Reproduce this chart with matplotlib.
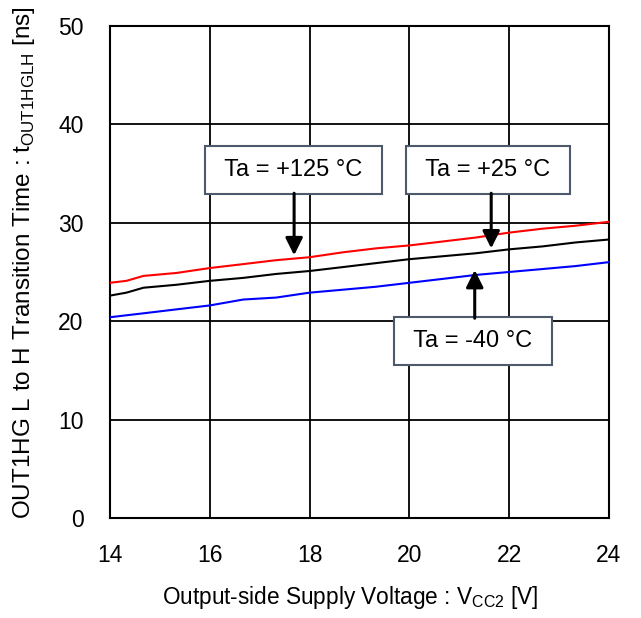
import matplotlib
matplotlib.use('Agg')
import matplotlib.pyplot as plt

plt.rcParams['font.family'] = ['Liberation Sans', 'DejaVu Sans']
plt.rcParams['mathtext.fontset'] = 'custom'
plt.rcParams['mathtext.rm'] = 'Liberation Sans'

# supply voltage (V)
vcc2 = [14.0, 14.33, 14.67, 15.33, 16.0, 16.67, 17.33, 18.0, 18.67, 19.33,
        20.0, 20.67, 21.33, 22.0, 22.67, 23.33, 24.0]
# transition time (ns)
t_125 = [23.9, 24.1, 24.6, 24.9, 25.4, 25.8, 26.2, 26.5, 27.0, 27.4,
         27.7, 28.1, 28.5, 29.0, 29.4, 29.7, 30.1]
t_25 = [22.6, 22.9, 23.4, 23.7, 24.1, 24.4, 24.8, 25.1, 25.5, 25.9,
        26.3, 26.6, 26.9, 27.3, 27.6, 28.0, 28.3]
t_m40 = [20.4, 20.6, 20.8, 21.2, 21.6, 22.2, 22.4, 22.9, 23.2, 23.5,
         23.9, 24.3, 24.7, 25.0, 25.3, 25.6, 26.0]

fig = plt.figure(figsize=(6.41, 6.18), dpi=100)
ax = fig.add_axes([0.1716, 0.1618, 0.7784, 0.7962])

ax.plot(vcc2, t_125, color='#ff0000', lw=1.5, zorder=3)
ax.plot(vcc2, t_25, color='black', lw=1.5, zorder=3)
ax.plot(vcc2, t_m40, color='#0000ff', lw=1.5, zorder=3)

ax.set_xlim(14, 24)
ax.set_ylim(0, 50)
ax.set_xticks([14, 16, 18, 20, 22, 24])
ax.set_yticks([0, 10, 20, 30, 40, 50])
ax.grid(True, color='black', lw=1.3)
ax.set_axisbelow(True)
for s in ax.spines.values():
    s.set_linewidth(1.5)
ax.tick_params(axis='both', length=0, labelsize=16.5)
ax.tick_params(axis='x', pad=19)
ax.tick_params(axis='y', pad=19)

ax.set_xlabel(r'Output-side Supply Voltage : V$_{\mathregular{CC2}}$ [V]', fontsize=16.3)
ax.set_ylabel(r'OUT1HG L to H Transition Time : t$_{\mathregular{OUT1HGLH}}$ [ns]', fontsize=17.5)
ax.xaxis.set_label_coords(0.481, -0.134)
ax.yaxis.set_label_coords(-0.146, 0.52)

box = dict(boxstyle='square,pad=0.55', facecolor='white', edgecolor='#4d5a6b', lw=1.5)
arrow = dict(arrowstyle='-|>', color='black', lw=2.2, mutation_scale=26, shrinkA=0, shrinkB=0)

# Ta = +125
ax.text(17.68, 35.4, ' Ta = +125 °C ', fontsize=17, ha='center', va='center', bbox=box, zorder=5)
ax.annotate('', xy=(17.69, 26.7), xytext=(17.69, 33.0), arrowprops=arrow, zorder=5)
# Ta = +25
ax.text(21.58, 35.4, ' Ta = +25 °C ', fontsize=17, ha='center', va='center', bbox=box, zorder=5)
ax.annotate('', xy=(21.64, 27.4), xytext=(21.64, 33.0), arrowprops=arrow, zorder=5)
# Ta = -40
ax.text(21.28, 18.0, ' Ta = -40 °C ', fontsize=17, ha='center', va='center', bbox=box, zorder=5)
ax.annotate('', xy=(21.31, 25.2), xytext=(21.31, 20.3), arrowprops=arrow, zorder=5)

fig.savefig('out.png', dpi=100)
